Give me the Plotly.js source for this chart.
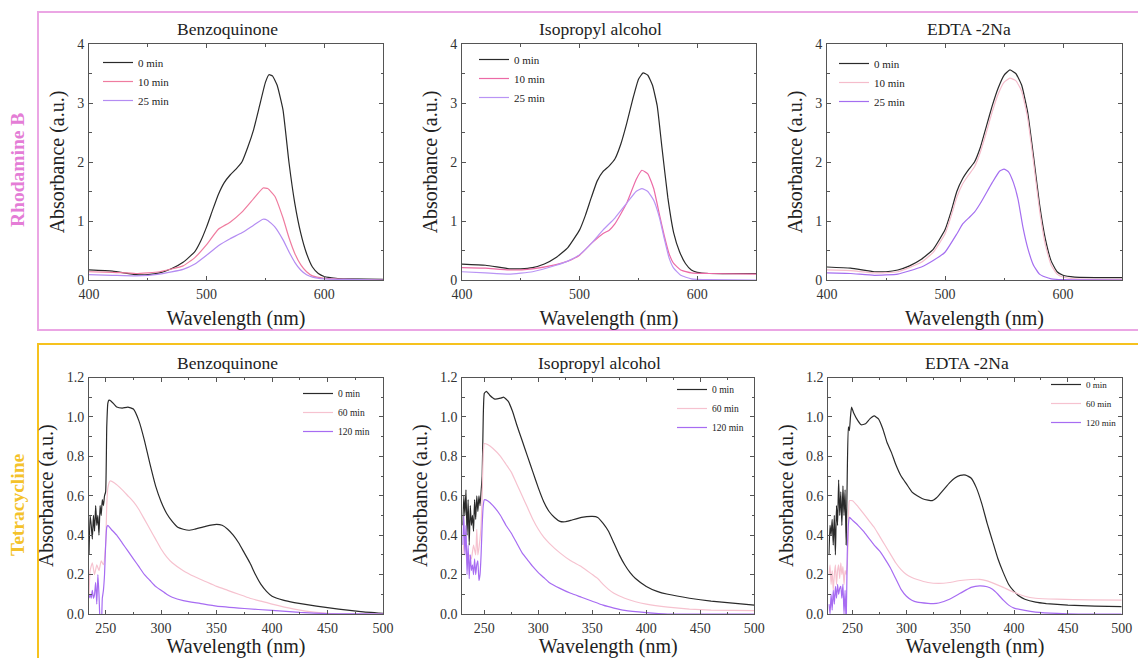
<!DOCTYPE html>
<html><head><meta charset="utf-8">
<script src="https://cdn.plot.ly/plotly-3.0.1.min.js"></script>
<style>html,body{margin:0;padding:0;background:#fff}#chart{width:1138px;height:658px}</style>
</head><body><div id="chart"></div>
<script>
// ---------- Rhodamine B : Benzoquinone ----------
var rhbBqWl0 = [400,420,440,450,460,470,480,490,495,500,505,510,515,520,525,530,535,540,545,550,553,556,560,565,570,575,580,585,590,595,600,610,620,650];
var rhbBq0   = [0.17,0.15,0.09,0.09,0.12,0.19,0.30,0.48,0.66,0.90,1.18,1.45,1.65,1.78,1.88,2.0,2.25,2.55,2.95,3.35,3.48,3.46,3.30,2.88,2.0,1.3,0.8,0.45,0.22,0.11,0.06,0.03,0.02,0.01];
var rhbBqWl10 = [400,420,440,460,480,490,500,510,520,530,540,548,552,558,565,570,575,580,585,590,600,620,650];
var rhbBq10   = [0.14,0.13,0.11,0.14,0.24,0.38,0.60,0.86,0.98,1.15,1.38,1.56,1.55,1.42,1.05,0.72,0.45,0.26,0.14,0.07,0.03,0.01,0.0];
var rhbBqWl25 = [400,420,440,460,480,490,500,510,520,530,540,548,552,558,565,570,575,580,585,590,600,620,650];
var rhbBq25   = [0.09,0.08,0.07,0.10,0.18,0.27,0.42,0.58,0.70,0.80,0.93,1.03,1.01,0.90,0.68,0.48,0.30,0.17,0.09,0.05,0.02,0.01,0.0];

// ---------- Rhodamine B : Isopropyl alcohol ----------
var rhbIpaWl0 = [400,420,440,450,460,470,480,490,500,505,510,515,520,525,530,535,540,545,550,554,558,562,566,570,575,580,585,590,595,600,610,650];
var rhbIpa0   = [0.27,0.25,0.19,0.19,0.21,0.27,0.38,0.55,0.85,1.10,1.40,1.68,1.84,1.93,2.05,2.30,2.65,3.05,3.40,3.51,3.47,3.30,2.95,2.25,1.40,0.80,0.48,0.28,0.17,0.13,0.11,0.11];
var rhbIpaWl10 = [400,420,440,460,480,490,500,510,520,525,530,540,548,553,558,563,568,572,576,580,586,595,610,650];
var rhbIpa10   = [0.21,0.20,0.17,0.19,0.26,0.32,0.42,0.62,0.79,0.84,0.95,1.30,1.70,1.86,1.80,1.55,1.10,0.75,0.45,0.28,0.17,0.12,0.11,0.10];
var rhbIpaWl25 = [400,420,440,460,480,490,500,510,520,530,540,548,553,558,563,568,572,576,580,586,595,610,650];
var rhbIpa25   = [0.14,0.12,0.10,0.14,0.25,0.32,0.43,0.62,0.85,1.05,1.30,1.50,1.55,1.50,1.35,1.05,0.70,0.38,0.20,0.08,0.02,0.005,0.0];

// ---------- Rhodamine B : EDTA-2Na ----------
var rhbEdWl0 = [400,420,440,450,460,470,480,490,500,505,510,515,520,525,530,535,540,545,550,555,560,565,570,575,580,585,590,595,600,610,650];
var rhbEd0   = [0.22,0.20,0.14,0.14,0.17,0.24,0.35,0.52,0.85,1.15,1.50,1.72,1.87,2.0,2.25,2.60,2.95,3.25,3.47,3.56,3.50,3.30,2.85,2.10,1.30,0.70,0.32,0.14,0.08,0.05,0.04];
var rhbEdWl10 = [400,420,440,460,480,490,500,505,510,515,520,525,530,535,540,545,550,555,560,565,570,575,580,585,590,595,600,610,650];
var rhbEd10   = [0.17,0.16,0.12,0.14,0.30,0.47,0.78,1.07,1.40,1.63,1.78,1.92,2.17,2.50,2.85,3.15,3.35,3.42,3.38,3.20,2.75,2.00,1.20,0.60,0.25,0.10,0.05,0.02,0.01];
var rhbEdWl25 = [400,420,440,460,480,490,500,510,515,520,525,530,540,546,550,554,558,562,566,570,575,580,585,590,600,650];
var rhbEd25   = [0.12,0.11,0.08,0.10,0.22,0.33,0.47,0.78,0.95,1.05,1.15,1.30,1.65,1.84,1.88,1.83,1.65,1.36,0.90,0.55,0.25,0.10,0.05,0.02,0.005,0.0];

// ---------- Tetracycline : Benzoquinone ----------
var tcBqWl0 = [235,236,237,238,239,240,241,242,243,244,245,246,247,248,249,250,251,252,253,255,260,265,270,275,280,285,290,295,300,305,310,315,320,325,330,340,350,355,360,365,370,375,380,385,390,395,400,410,420,440,460,480,500];
var tcBq0   = [0.30,0.50,0.45,0.38,0.50,0.42,0.55,0.45,0.50,0.40,0.55,0.50,0.58,0.55,0.60,0.62,0.95,1.07,1.085,1.08,1.05,1.045,1.05,1.04,0.98,0.88,0.76,0.65,0.57,0.51,0.47,0.44,0.43,0.425,0.43,0.445,0.455,0.45,0.43,0.40,0.36,0.31,0.26,0.20,0.15,0.115,0.09,0.07,0.058,0.04,0.025,0.012,0.003];
var tcBqWl60 = [235,236,238,240,242,244,246,248,250,251,252,254,258,265,270,275,280,285,290,295,300,305,310,320,330,340,350,360,370,380,390,400,420,440,460,500];
var tcBq60   = [0.10,0.22,0.26,0.20,0.25,0.22,0.27,0.25,0.35,0.55,0.64,0.675,0.665,0.63,0.60,0.57,0.53,0.48,0.43,0.38,0.33,0.29,0.26,0.22,0.19,0.165,0.14,0.12,0.10,0.08,0.065,0.05,0.025,0.008,0.0,0.0];
var tcBqWl120 = [235,236,237,238,239,240,241,242,243,244,245,246,247,248,249,250,251,252,255,260,265,270,275,280,285,290,295,300,305,310,320,335,350,375,400,425,450,500];
var tcBq120   = [0.08,0.10,0.08,0.12,0.08,0.10,0.16,0.05,0.20,0.10,-0.05,-0.10,0.08,0.12,0.20,0.35,0.44,0.45,0.43,0.40,0.36,0.32,0.28,0.24,0.20,0.17,0.14,0.12,0.10,0.085,0.068,0.054,0.04,0.028,0.018,0.008,0.002,0.0];

// ---------- Tetracycline : Isopropyl alcohol ----------
var tcIpaWl0 = [230,231,232,233,234,235,236,237,238,239,240,241,242,243,244,245,246,247,248,249,250,252,255,260,265,268,272,276,280,285,290,295,300,305,310,315,320,325,330,340,350,355,360,365,370,375,380,385,390,400,410,420,440,460,480,500];
var tcIpa0   = [0.45,0.60,0.50,0.63,0.40,0.58,0.35,0.55,0.45,0.50,0.42,0.58,0.48,0.60,0.52,0.60,0.55,0.62,0.70,1.00,1.12,1.13,1.11,1.09,1.095,1.10,1.08,1.03,0.96,0.88,0.80,0.72,0.64,0.57,0.52,0.49,0.47,0.468,0.475,0.49,0.495,0.49,0.46,0.42,0.36,0.30,0.25,0.21,0.18,0.14,0.115,0.10,0.08,0.065,0.055,0.045];
var tcIpaWl60 = [230,232,234,236,238,240,242,243,244,246,247,248,249,250,253,258,265,270,275,280,285,290,295,300,305,310,320,330,340,350,355,360,365,370,380,390,400,420,440,460,500];
var tcIpa60   = [0.30,0.40,0.25,0.30,0.28,0.35,0.30,0.43,0.30,0.38,0.45,0.60,0.82,0.865,0.86,0.84,0.80,0.76,0.72,0.66,0.60,0.54,0.48,0.43,0.39,0.36,0.31,0.27,0.24,0.20,0.18,0.15,0.125,0.105,0.08,0.062,0.05,0.035,0.025,0.02,0.017];
var tcIpaWl120 = [230,231,232,233,234,235,236,237,238,239,240,241,242,243,244,245,246,247,248,249,250,253,258,265,270,275,280,285,290,295,300,305,310,320,330,340,350,360,370,380,400,420,500];
var tcIpa120   = [0.35,0.50,0.30,0.45,0.20,0.35,0.18,0.30,0.22,0.25,0.20,0.28,0.20,0.25,0.27,0.17,0.20,0.30,0.45,0.55,0.58,0.575,0.55,0.50,0.45,0.41,0.36,0.31,0.275,0.24,0.21,0.185,0.16,0.13,0.105,0.085,0.065,0.045,0.03,0.018,0.007,0.0,0.0];

// ---------- Tetracycline : EDTA-2Na ----------
var tcEdWl0 = [228,229,230,231,232,233,234,235,236,237,238,239,240,241,242,243,244,245,246,247,248,249,251,255,258,262,266,270,274,278,282,286,290,295,300,305,310,315,320,324,328,332,336,340,345,350,355,360,365,370,375,380,385,390,395,400,405,410,420,430,450,475,500];
var tcEd0   = [0.30,0.45,0.40,0.48,0.35,0.50,0.30,0.55,0.45,0.68,0.50,0.62,0.45,0.65,0.50,0.63,0.35,0.70,0.95,0.93,1.00,1.05,1.02,0.98,0.96,0.965,0.99,1.005,0.99,0.94,0.87,0.82,0.76,0.70,0.66,0.62,0.60,0.585,0.578,0.575,0.59,0.615,0.64,0.665,0.69,0.703,0.705,0.69,0.64,0.56,0.46,0.37,0.28,0.21,0.15,0.115,0.09,0.075,0.06,0.053,0.045,0.04,0.037];
var tcEdWl60 = [228,229,230,231,232,233,234,235,236,237,238,239,240,241,242,243,244,245,246,247,250,255,260,265,270,275,280,285,290,295,300,305,310,320,330,340,350,360,368,375,380,390,400,410,420,440,470,500];
var tcEd60   = [0.20,0.25,0.15,0.22,0.12,0.20,0.25,0.15,0.22,0.25,0.18,0.26,0.20,0.24,0.15,0.22,0.20,0.25,0.40,0.575,0.575,0.545,0.51,0.475,0.44,0.395,0.35,0.305,0.26,0.225,0.20,0.185,0.175,0.16,0.155,0.16,0.17,0.175,0.176,0.168,0.158,0.135,0.11,0.09,0.08,0.075,0.072,0.07];
var tcEdWl120 = [228,229,230,231,232,233,234,235,236,237,238,239,240,241,242,243,244,245,246,247,250,255,260,265,270,275,280,285,290,295,300,305,310,320,325,330,340,350,360,368,375,380,385,390,395,400,410,420,440,460,500];
var tcEd120   = [0.05,0.0,0.10,0.02,0.12,0.05,0.14,0.08,0.15,0.10,0.13,0.14,0.08,0.15,0.0,0.12,-0.05,0.30,0.45,0.49,0.475,0.45,0.42,0.385,0.35,0.32,0.28,0.235,0.18,0.125,0.09,0.07,0.06,0.054,0.053,0.056,0.075,0.105,0.135,0.143,0.138,0.125,0.10,0.07,0.045,0.03,0.018,0.01,0.003,0.0,0.0];

// ---------- labels ----------
var panelTitles = ['Benzoquinone','Isopropyl alcohol','EDTA -2Na','Benzoquinone','Isopropyl alcohol','EDTA -2Na'];
var rowLabels = ['Rhodamine B','Tetracycline'];
var rhbNames = ['0 min','10 min','25 min'];
var tcNames = ['0 min','60 min','120 min'];

var W = 1138, H = 658;
var FONT = '"Liberation Serif", "Times New Roman", serif';
function px(x){return x/W;}
function py(y){return 1 - y/H;}

var BLACK = '#2a2a2a';
var panels = [
  {wl:[rhbBqWl0,rhbBqWl10,rhbBqWl25], v:[rhbBq0,rhbBq10,rhbBq25], names:rhbNames, colors:[BLACK,'#ef7c9f','#b48cf2'], px:[89,383], py:[44,280], legend:{x:98,y:48,size:11}, title:{x:227,y:29}, row:0},
  {wl:[rhbIpaWl0,rhbIpaWl10,rhbIpaWl25], v:[rhbIpa0,rhbIpa10,rhbIpa25], names:rhbNames, colors:[BLACK,'#ec6aa6','#b994f5'], px:[462,756], py:[44,280], legend:{x:474,y:45,size:11}, title:{x:600,y:29}, row:0},
  {wl:[rhbEdWl0,rhbEdWl10,rhbEdWl25], v:[rhbEd0,rhbEd10,rhbEd25], names:rhbNames, colors:[BLACK,'#f5bccb','#a46ef0'], px:[827,1122], py:[44,280], legend:{x:834,y:49,size:11}, title:{x:969,y:29}, row:0},
  {wl:[tcBqWl0,tcBqWl60,tcBqWl120], v:[tcBq0,tcBq60,tcBq120], names:tcNames, colors:[BLACK,'#f6c2cf','#a76cf2'], px:[89,383], py:[377.5,614], legend:{x:298,y:379,size:9.5}, title:{x:227,y:363}, row:1},
  {wl:[tcIpaWl0,tcIpaWl60,tcIpaWl120], v:[tcIpa0,tcIpa60,tcIpa120], names:tcNames, colors:[BLACK,'#f6c2cf','#a76cf2'], px:[462.3,754.3], py:[377.5,614], legend:{x:672,y:375,size:9.5}, title:{x:599,y:363}, row:1},
  {wl:[tcEdWl0,tcEdWl60,tcEdWl120], v:[tcEd0,tcEd60,tcEd120], names:tcNames, colors:[BLACK,'#f6c2cf','#a76cf2'], px:[828.3,1121.7], py:[377.5,614], legend:{x:1046,y:370,size:9}, title:{x:967,y:363}, row:1}
];

var data = [];
var layout = {
  width: W, height: H, margin:{l:0,r:0,t:0,b:0},
  paper_bgcolor:'#fff', plot_bgcolor:'#fff',
  font:{family:FONT, color:'#222', size:13},
  annotations: [], shapes: []
};

panels.forEach(function(p, i){
  var n = i + 1;
  var xa = 'x' + (n === 1 ? '' : n), ya = 'y' + (n === 1 ? '' : n);
  var legName = 'legend' + (n === 1 ? '' : n);
  var top = p.row === 0;
  for (var k = 0; k < 3; k++) {
    data.push({
      type:'scatter', mode:'lines', x:p.wl[k], y:p.v[k], name:p.names[k],
      xaxis:xa, yaxis:ya, legend:legName,
      line:{color:p.colors[k], width:1.2, shape:'spline', smoothing:0.4}
    });
  }
  function axCommon(){
    return {
      showline:true, linecolor:'#555', linewidth:1, mirror:'ticks',
      ticks:'inside', ticklen:4, tickwidth:1, tickcolor:'#555',
      showgrid:false, zeroline:false, fixedrange:true,
      tickfont:{family:FONT, size:14, color:'#333'}
    };
  }
  var xaxis = Object.assign(axCommon(), {
    domain:[px(p.px[0]), px(p.px[1])], anchor: ya,
    range: top ? [400,650] : [[235,500],[229.6,500],[227.4,500]][i-3],
    tickvals: top ? [400,500,600] : [250,300,350,400,450,500],
    ticklabelstandoff: 1,
    minor:{ticks:'inside', ticklen:2.5, tickcolor:'#555', dtick: top ? 50 : 25, tick0:0, showgrid:false},
    title:{text:'Wavelength (nm)', font:{family:FONT, size:20, color:'#222'}, standoff: top ? 10 : 0}
  });
  var yaxis = Object.assign(axCommon(), {
    domain:[py(p.py[1]), py(p.py[0])], anchor: xa,
    range: top ? [0,4] : [0,1.2],
    dtick: top ? 1 : 0.2, tickformat: top ? 'd' : '.1f',
    ticklabelstandoff: 1,
    minor:{ticks:'inside', ticklen:2.5, tickcolor:'#555', dtick: top ? 0.5 : 0.1, showgrid:false},
    title:{text:'Absorbance (a.u.)', font:{family:FONT, size:20, color:'#222'}, standoff: 7}
  });
  layout['xaxis' + (n === 1 ? '' : n)] = xaxis;
  layout['yaxis' + (n === 1 ? '' : n)] = yaxis;
  layout[legName] = {
    x: px(p.legend.x), y: py(p.legend.y), xanchor:'left', yanchor:'top',
    bgcolor:'rgba(0,0,0,0)', borderwidth:0,
    font:{family:FONT, size:p.legend.size, color:'#222'},
    itemwidth:30, tracegroupgap:0
  };
  layout.annotations.push({
    xref:'paper', yref:'paper', x:px(p.title.x), y:py(p.title.y),
    xanchor:'center', yanchor:'middle', showarrow:false,
    text:panelTitles[i], font:{family:FONT, size:17.5, color:'#222'}
  });
});

// row labels
layout.annotations.push({xref:'paper', yref:'paper', x:px(17), y:py(170), xanchor:'center', yanchor:'middle', showarrow:false, textangle:-90,
  text:'<b>' + rowLabels[0] + '</b>', font:{family:FONT, size:19.5, color:'#e47dd6'}});
layout.annotations.push({xref:'paper', yref:'paper', x:px(17), y:py(505), xanchor:'center', yanchor:'middle', showarrow:false, textangle:-90,
  text:'<b>' + rowLabels[1] + '</b>', font:{family:FONT, size:19.5, color:'#f4c22a'}});

// frames
layout.shapes.push({type:'rect', xref:'paper', yref:'paper', x0:px(38), x1:1.02, y0:py(330), y1:py(12), line:{color:'#eba6e4', width:2}});
layout.shapes.push({type:'rect', xref:'paper', yref:'paper', x0:px(38), x1:1.02, y0:-0.05, y1:py(344), line:{color:'#f6c21e', width:2}});

Plotly.newPlot('chart', data, layout, {displayModeBar:false, staticPlot:true});
</script></body></html>
